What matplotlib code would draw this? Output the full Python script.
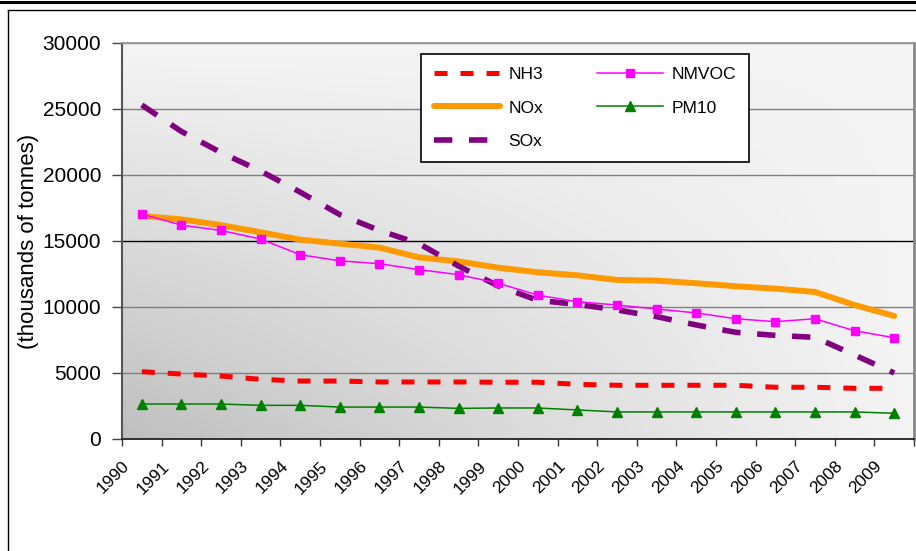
import matplotlib.pyplot as plt
import numpy as np
from matplotlib.lines import Line2D

plt.rcParams['font.family'] = ['Liberation Sans', 'DejaVu Sans']

years = [str(y) for y in range(1990, 2010)]

nh3 = [5100, 4920, 4770, 4520, 4390, 4390, 4320, 4320, 4320, 4300,
       4300, 4140, 4070, 4070, 4070, 4070, 3920, 3920, 3840, 3840]
nmvoc = [17050, 16200, 15800, 15150, 13960, 13500, 13280, 12830, 12450, 11800,
         10900, 10400, 10150, 9850, 9550, 9110, 8890, 9110, 8200, 7670]
nox = [16900, 16640, 16200, 15660, 15100, 14800, 14500, 13760, 13450, 12980,
       12630, 12400, 12050, 12000, 11800, 11570, 11390, 11140, 10150, 9320]
pm10 = [2650, 2650, 2650, 2550, 2550, 2420, 2420, 2420, 2320, 2350,
        2350, 2200, 2050, 2050, 2050, 2050, 2050, 2050, 2050, 1950]
sox = [25300, 23300, 21700, 20300, 18700, 17000, 15800, 14800, 13100, 11600,
       10500, 10200, 9770, 9270, 8640, 8080, 7850, 7700, 6360, 5000]

W, H = 916, 551
fig = plt.figure(figsize=(W / 100, H / 100), dpi=100)
ax = fig.add_axes([122 / W, 1 - 439 / H, 792 / W, 396 / H])

# grey gradient: dark in the lower left corner, fading to near white
gx, gy = np.meshgrid(np.linspace(0, 1, 300), np.linspace(1, 0, 200))
shade = 0.96 - 0.21 * (1 - gx) * (1 - gy)
ax.imshow(np.dstack([shade] * 3), extent=(0, 1, 0, 1), transform=ax.transAxes,
          aspect='auto', zorder=0, interpolation='bilinear')

x = np.arange(len(years)) + 0.5

ax.plot(x, nh3, color='#ff0000', lw=3.6, dashes=(2.6, 2.6), label='NH3', zorder=3)
ax.plot(x, nox, color='#ff9900', lw=4.3, solid_capstyle='round', label='NOx', zorder=3)
ax.plot(x, sox, color='#800080', lw=4.0, dashes=(3.3, 3.0), label='SOx', zorder=3)
ax.plot(x, nmvoc, color='#ff00ff', lw=1.1, marker='s', ms=6, label='NMVOC', zorder=4)
ax.plot(x, pm10, color='#008000', lw=1.1, marker='^', ms=6.5, label='PM10', zorder=4)

ax.set_xlim(0, 20)
ax.set_ylim(0, 30000)
ax.set_yticks(range(0, 30001, 5000))
ax.set_xticks(range(21))
ax.set_xticklabels(years + [''], rotation=45, ha='right', va='top',
                   rotation_mode='anchor', fontsize=12.5)
ax.tick_params(axis='y', labelsize=15, length=7, width=1, pad=8, color='#444444')
ax.tick_params(axis='x', length=5, width=1, pad=9, color='#333333')

ax.set_axisbelow(True)
ax.yaxis.grid(True, color='#808080', lw=1)
ax.get_ygridlines()[3].set_color('black')

ax.spines['left'].set_color('#555555')
ax.spines['left'].set_linewidth(1.5)
ax.spines['bottom'].set_color('#222222')
ax.spines['bottom'].set_linewidth(1.3)
ax.spines['top'].set_color('#999999')
ax.spines['top'].set_linewidth(1.3)
ax.spines['right'].set_color('#888888')
ax.spines['right'].set_linewidth(2)

ax.set_ylabel('(thousands of tonnes)', fontsize=16)
ax.yaxis.set_label_coords(39 / W, 1 - 241 / H, transform=fig.transFigure)

leg = ax.legend(loc='upper left', bbox_to_anchor=(421 / W, 1 - 54 / H),
                bbox_transform=fig.transFigure, borderaxespad=0, ncol=2,
                fontsize=12.5, handlelength=3.8, handletextpad=0.5,
                columnspacing=3.1, labelspacing=1.05, borderpad=0.75,
                fancybox=False, framealpha=1)
leg.get_frame().set_edgecolor('black')
leg.get_frame().set_linewidth(1.2)

# outer frame lines
fig.add_artist(Line2D([0, 1], [1 - 1.5 / H, 1 - 1.5 / H], color='black', lw=2.2,
                      transform=fig.transFigure))
fig.add_artist(Line2D([8 / W, 1], [1 - 10 / H, 1 - 10 / H], color='black', lw=1,
                      transform=fig.transFigure))
fig.add_artist(Line2D([8 / W, 8 / W], [0, 1 - 10 / H], color='black', lw=1,
                      transform=fig.transFigure))

fig.savefig('out.png', dpi=100)
